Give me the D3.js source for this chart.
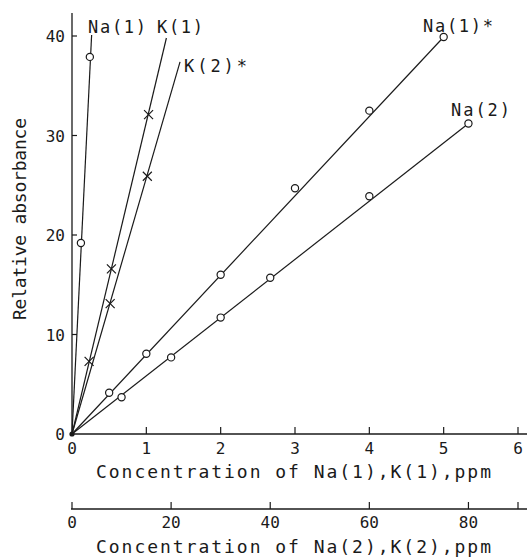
<!DOCTYPE html>
<html><head><meta charset="utf-8">
<script src="https://cdn.jsdelivr.net/npm/d3@7"></script>
<style>html,body{margin:0;padding:0;background:#fff;}svg{display:block;}</style>
</head><body>
<script>
// ---- data ----
const xTopTicks = [0, 1, 2, 3, 4, 5, 6];          // Na(1), K(1) ppm
const xBottomTicks = [0, 20, 40, 60, 80, 90];     // Na(2), K(2) ppm
const xBottomLabels = ["0", "20", "40", "60", "80", ""];
const yTicks = [0, 10, 20, 30, 40];

// series on top axis (ppm of Na(1), K(1))
const na1X = [0, 0.12, 0.24];
const na1Y = [0, 19.2, 37.9];
const na1End = [0.264, 40.1];

const k1X = [0, 0.23, 0.53, 1.03];
const k1Y = [0, 7.3, 16.6, 32.1];
const k1End = [1.27, 39.8];

const na1sX = [0, 0.5, 1, 2, 3, 4, 5];
const na1sY = [0, 4.15, 8.07, 16.0, 24.7, 32.5, 39.9];

// series on bottom axis (ppm of Na(2), K(2))
const k2sX = [0, 7.7, 15.2];
const k2sY = [0, 13.1, 25.9];
const k2sEnd = [21.8, 37.4];

const na2X = [0, 10, 20, 30, 40, 60, 80];
const na2Y = [0, 3.7, 7.7, 11.7, 15.7, 23.9, 31.2];

const seriesNames = ["Na(1)", "K(1)", "K(2)*", "Na(1)*", "Na(2)"];

// ---- drawing ----
const W = 527, H = 557;
const ink = "#1a1a1a";
const font = "'DejaVu Sans Mono', 'Liberation Mono', monospace";
const svg = d3.select("body").append("svg").attr("width", W).attr("height", H);

const xTop = d3.scaleLinear().domain([0, 6]).range([72, 518]);
const xBot = d3.scaleLinear().domain([0, 90]).range([72, 518]);
const y = d3.scaleLinear().domain([0, 40]).range([434, 36]);

// axes lines
svg.append("line").attr("x1", 72).attr("x2", 72).attr("y1", y(0)).attr("y2", 13)
  .attr("stroke", ink).attr("stroke-width", 1.3);
svg.append("line").attr("x1", 72).attr("x2", W).attr("y1", y(0)).attr("y2", y(0))
  .attr("stroke", ink).attr("stroke-width", 1.3);
svg.append("line").attr("x1", 71).attr("x2", W).attr("y1", 509).attr("y2", 509)
  .attr("stroke", ink).attr("stroke-width", 1.3);

// y ticks (inward) + labels
const yg = svg.append("g");
yg.selectAll("line").data(yTicks.filter(d => d > 0)).join("line")
  .attr("x1", 72).attr("x2", 77).attr("y1", d => y(d)).attr("y2", d => y(d))
  .attr("stroke", ink).attr("stroke-width", 1.2);
yg.selectAll("text").data(yTicks).join("text")
  .attr("x", 65).attr("y", d => y(d) + 6)
  .attr("text-anchor", "end").attr("font-family", font).attr("font-size", 16)
  .attr("fill", ink).text(d => d);

// top x ticks (upward) + labels
const xg = svg.append("g");
xg.selectAll("line").data(xTopTicks.filter(d => d > 0)).join("line")
  .attr("x1", d => xTop(d)).attr("x2", d => xTop(d)).attr("y1", y(0)).attr("y2", y(0) - 7)
  .attr("stroke", ink).attr("stroke-width", 1.2);
xg.selectAll("text").data(xTopTicks).join("text")
  .attr("x", d => xTop(d)).attr("y", 454)
  .attr("text-anchor", "middle").attr("font-family", font).attr("font-size", 16)
  .attr("fill", ink).text(d => d);

// bottom x ticks + labels
const bg = svg.append("g");
bg.selectAll("line").data(xBottomTicks).join("line")
  .attr("x1", d => xBot(d)).attr("x2", d => xBot(d)).attr("y1", 509).attr("y2", 502)
  .attr("stroke", ink).attr("stroke-width", 1.2);
bg.selectAll("text").data(xBottomTicks).join("text")
  .attr("x", d => xBot(d)).attr("y", 528)
  .attr("text-anchor", "middle").attr("font-family", font).attr("font-size", 16)
  .attr("fill", ink).text((d, i) => xBottomLabels[i]);

// titles
svg.append("text").attr("x", 96).attr("y", 478).attr("font-family", font).attr("font-size", 18)
  .attr("fill", ink).attr("textLength", 395).attr("lengthAdjust", "spacing")
  .text("Concentration of Na(1),K(1),ppm");
svg.append("text").attr("x", 96).attr("y", 553).attr("font-family", font).attr("font-size", 18)
  .attr("fill", ink).attr("textLength", 395).attr("lengthAdjust", "spacing")
  .text("Concentration of Na(2),K(2),ppm");
svg.append("text").attr("transform", "translate(26,219) rotate(-90)")
  .attr("x", -101).attr("y", 0).attr("font-family", font).attr("font-size", 18)
  .attr("fill", ink).attr("textLength", 202).attr("lengthAdjust", "spacing")
  .text("Relative absorbance");

// lines
const series = [
  {x: na1X, y: na1Y, end: na1End, sx: xTop, m: "o"},
  {x: k1X, y: k1Y, end: k1End, sx: xTop, m: "x"},
  {x: k2sX, y: k2sY, end: k2sEnd, sx: xBot, m: "x"},
  {x: na1sX, y: na1sY, end: null, sx: xTop, m: "o"},
  {x: na2X, y: na2Y, end: null, sx: xBot, m: "o"}
];
series.forEach(s => {
  const last = s.end ? s.end : [s.x[s.x.length - 1], s.y[s.y.length - 1]];
  svg.append("line").attr("x1", s.sx(0)).attr("y1", y(0))
    .attr("x2", s.sx(last[0])).attr("y2", y(last[1]))
    .attr("stroke", ink).attr("stroke-width", 1.2);
  const pts = s.x.map((v, i) => [v, s.y[i]]).filter(p => p[0] > 0);
  if (s.m === "o") {
    svg.append("g").selectAll("circle").data(pts).join("circle")
      .attr("cx", p => s.sx(p[0])).attr("cy", p => y(p[1])).attr("r", 3.6)
      .attr("fill", "#fff").attr("stroke", ink).attr("stroke-width", 1.2);
  } else {
    const g = svg.append("g");
    pts.forEach(p => {
      const cx = s.sx(p[0]), cy = y(p[1]), r = 4.5;
      g.append("path").attr("d", `M${cx - r},${cy - r}L${cx + r},${cy + r}M${cx - r},${cy + r}L${cx + r},${cy - r}`)
        .attr("stroke", ink).attr("stroke-width", 1.2).attr("fill", "none");
    });
  }
});
// origin dot
svg.append("circle").attr("cx", xTop(0)).attr("cy", y(0)).attr("r", 2.6).attr("fill", ink);

// series labels
const labelPos = [[88, 33, 58], [157, 33, 46], [184, 72, 63], [423, 32, 70], [451, 116, 59]];
svg.append("g").selectAll("text").data(seriesNames).join("text")
  .attr("x", (d, i) => labelPos[i][0]).attr("y", (d, i) => labelPos[i][1])
  .attr("textLength", (d, i) => labelPos[i][2]).attr("lengthAdjust", "spacing")
  .attr("font-family", font).attr("font-size", 17).attr("fill", ink).text(d => d);
</script>
</body></html>
